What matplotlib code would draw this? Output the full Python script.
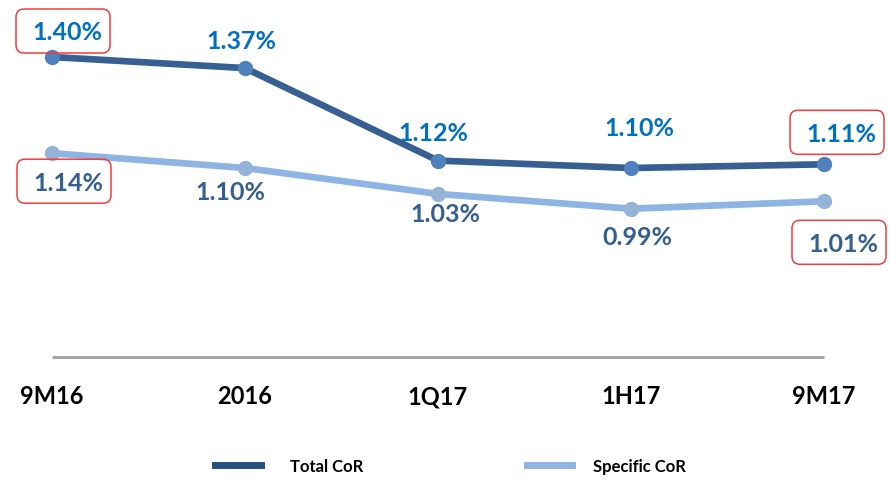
import matplotlib
matplotlib.use("Agg")
import matplotlib.pyplot as plt
from matplotlib.patches import FancyBboxPatch
from matplotlib.transforms import IdentityTransform

plt.rcParams['font.family'] = ['Lato', 'DejaVu Sans']

categories = ["9M16", "2016", "1Q17", "1H17", "9M17"]
total_cor = [1.40, 1.37, 1.12, 1.10, 1.11]
specific_cor = [1.14, 1.10, 1.03, 0.99, 1.01]
total_labels = ["1.40%", "1.37%", "1.12%", "1.10%", "1.11%"]
specific_labels = ["1.14%", "1.10%", "1.03%", "0.99%", "1.01%"]
boxed = [True, False, False, False, True]

# label offsets in pixels (dx, dy with y up)
total_off = [(15, 24), (-4, 27), (-5, 27), (8, 39), (17, 30)]
spec_off = [(16, -30), (-15, -24), (7, -21), (6, -29), (19, -43)]
# box centre offsets in pixels relative to the label centre
box_off = (-4, 2)
box_w, box_h = 94, 44

W, H = 890, 479
fig = plt.figure(figsize=(W / 100, H / 100), dpi=100)
ax = fig.add_axes([0, 0, 1, 1])
ax.set_axis_off()

px_per_x = (824 - 52) / (len(categories) - 1)
ax.set_xlim(-52 / px_per_x, (len(categories) - 1) + (W - 824) / px_per_x)
ppu = 370.0
ytop = 1.40 + 57 / ppu
ax.set_ylim(ytop - H / ppu, ytop)

x = list(range(len(categories)))
baseline = ytop - 357 / ppu

ax.plot([x[0], x[-1]], [baseline, baseline], color="#A6A6A6", lw=2.2,
        solid_capstyle="butt", zorder=1)

ax.plot(x, total_cor, color="#375F92", lw=4.8, zorder=3,
        marker="o", markersize=10, markerfacecolor="#4F81BD",
        markeredgecolor="#4F81BD", solid_capstyle="round")
ax.plot(x, specific_cor, color="#8EB4E3", lw=4.8, zorder=2,
        marker="o", markersize=10, markerfacecolor="#95B3D7",
        markeredgecolor="#95B3D7", solid_capstyle="round")

for i in x:
    for vals, labs, offs, col in ((total_cor, total_labels, total_off, "#0070C0"),
                                  (specific_cor, specific_labels, spec_off, "#355E91")):
        dx, dy = offs[i]
        ax.annotate(labs[i], (i, vals[i]), xytext=(dx, dy),
                    textcoords="offset pixels", ha="center", va="center",
                    fontsize=18, fontweight="bold", color=col, zorder=5)
        if boxed[i]:
            px, py = ax.transData.transform((i, vals[i]))
            cx = px + dx + box_off[0]
            cy = py + dy + box_off[1]
            r = 8
            box = FancyBboxPatch((cx - box_w / 2 + r, cy - box_h / 2 + r),
                                 box_w - 2 * r, box_h - 2 * r,
                                 boxstyle=f"round,pad={r},rounding_size={r}",
                                 facecolor="none", edgecolor="#F23C3C", lw=1.1,
                                 transform=IdentityTransform(), zorder=6)
            fig.add_artist(box)

for i, c in enumerate(categories):
    ax.text(i, ytop - 397 / ppu, c, ha="center", va="center",
            fontsize=17, fontweight="bold", color="#000000")

# legend
fig.lines.append(plt.Line2D([215 / W, 261 / W], [1 - 465 / H] * 2, color="#264F82",
                            lw=5, transform=fig.transFigure))
fig.text(290 / W, 1 - 467 / H, "Total CoR", ha="left", va="center",
         fontsize=12, fontweight="bold", color="#000000")
fig.lines.append(plt.Line2D([527 / W, 572 / W], [1 - 465 / H] * 2, color="#8EB4E3",
                            lw=5, transform=fig.transFigure))
fig.text(593 / W, 1 - 467 / H, "Specific CoR", ha="left", va="center",
         fontsize=12, fontweight="bold", color="#000000")

fig.savefig("out.png", dpi=100)
